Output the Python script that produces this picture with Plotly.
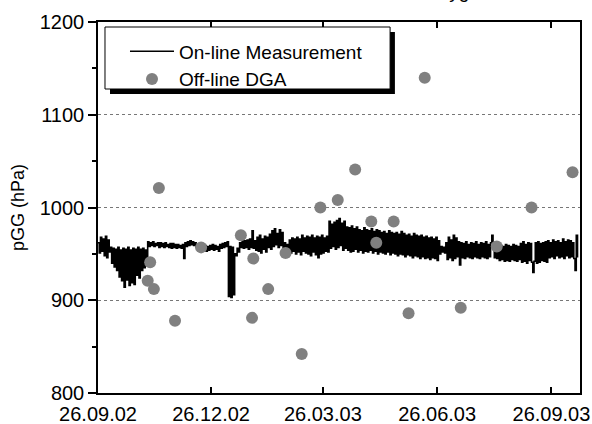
import pandas as pd
import plotly.graph_objects as go

# ---- Data ----
# Off-line DGA samples (date, pGG in hPa)
dga_dates = ["2002-11-05", "2002-11-07", "2002-11-10", "2002-11-14", "2002-11-27",
             "2002-12-18", "2003-01-19", "2003-01-28", "2003-01-29", "2003-02-10",
             "2003-02-24", "2003-03-09", "2003-03-24", "2003-04-07", "2003-04-21",
             "2003-05-04", "2003-05-08", "2003-05-22", "2003-06-03", "2003-06-16",
             "2003-07-15", "2003-08-13", "2003-09-10", "2003-10-13"]
dga_values = [921, 941, 912, 1021, 878,
              957, 970, 881, 945, 912,
              951, 842, 1000, 1008, 1041,
              985, 962, 985, 886, 1140,
              892, 958, 1000, 1038]

# On-line measurement, one reading per day from 26.09.02 (alternating upper/lower excursions)
online_start = "2002-09-26"
online_values = [
    962, 951, 968, 953, 966, 948, 969, 946, 965, 952,
    957, 940, 956, 936, 955, 932, 957, 925, 954, 921,
    956, 914, 955, 922, 957, 916, 954, 919, 956, 917,
    955, 927, 957, 924, 955, 932, 956, 935, 954, 938,
    963, 958, 962, 959, 963, 958, 961, 959, 962, 957,
    962, 958, 961, 957, 962, 958, 960, 957, 961, 956,
    961, 957, 960, 956, 960, 957, 959, 956, 960, 945,
    962, 958, 963, 959, 964, 960, 963, 959, 962, 957,
    959, 955, 960, 954, 958, 955, 959, 953, 958, 954,
    959, 955, 960, 954, 959, 955, 958, 953, 960, 956,
    961, 957, 962, 958, 963, 904, 958, 903, 957, 906,
    950, 948, 956, 952, 962, 957, 966, 956, 964, 957,
    965, 955, 966, 957, 975, 956, 964, 954, 968, 953,
    970, 951, 966, 955, 969, 952, 968, 957, 971, 955,
    975, 958, 977, 960, 972, 957, 976, 959, 973, 955,
    962, 954, 960, 952, 965, 951, 967, 953, 966, 950,
    968, 952, 966, 949, 970, 953, 967, 951, 969, 950,
    968, 948, 970, 952, 967, 949, 969, 946, 968, 950,
    970, 951, 967, 953, 969, 952, 985, 956, 982, 958,
    984, 955, 986, 957, 988, 959, 983, 954, 985, 956,
    979, 954, 978, 952, 980, 953, 977, 955, 979, 952,
    976, 954, 975, 951, 978, 953, 976, 952, 975, 954,
    977, 951, 974, 953, 976, 950, 975, 952, 973, 951,
    974, 950, 972, 952, 975, 949, 973, 951, 972, 950,
    973, 948, 971, 950, 974, 949, 972, 947, 970, 949,
    971, 948, 969, 946, 972, 948, 970, 947, 969, 945,
    970, 947, 968, 945, 969, 946, 967, 944, 968, 946,
    966, 945, 968, 943, 964, 950, 958, 952, 957, 951,
    962, 944, 968, 946, 965, 943, 970, 945, 967, 947,
    963, 938, 962, 946, 961, 945, 963, 947, 960, 946,
    962, 945, 961, 947, 963, 946, 960, 945, 962, 947,
    961, 946, 963, 945, 960, 947, 962, 970, 961, 946,
    962, 945, 960, 943, 959, 944, 958, 942, 960, 943,
    959, 942, 958, 944, 960, 943, 959, 942, 958, 944,
    961, 941, 963, 942, 960, 940, 962, 943, 961, 941,
    930, 942, 962, 940, 963, 941, 961, 943, 962, 942,
    963, 941, 964, 946, 962, 947, 965, 945, 963, 948,
    964, 946, 962, 947, 966, 945, 963, 948, 965, 946,
    964, 947, 962, 945, 932, 970, 946,
]

x_tick_dates = ["2002-09-26", "2002-12-26", "2003-03-26", "2003-06-26", "2003-09-26"]
x_tick_labels = ["26.09.02", "26.12.02", "26.03.03", "26.06.03", "26.09.03"]
x_range = ["2002-09-26", "2003-10-19"]
y_range = [800, 1200]

online_dates = pd.date_range(online_start, periods=len(online_values), freq="D")

FONT = "Arial, Liberation Sans, sans-serif"

fig = go.Figure()
fig.add_trace(go.Scatter(
    x=online_dates, y=online_values, mode="lines",
    name="On-line Measurement",
    line=dict(color="black", width=1.6, shape="hv"),
))
fig.add_trace(go.Scatter(
    x=pd.to_datetime(dga_dates), y=dga_values, mode="markers",
    name="Off-line DGA",
    marker=dict(color="#808080", size=12, line=dict(width=0)),
))

fig.update_layout(
    width=592, height=424,
    margin=dict(l=98, r=12, t=22, b=31, autoexpand=False),
    paper_bgcolor="white", plot_bgcolor="white",
    font=dict(family=FONT, color="black"),
    showlegend=True,
    legend=dict(
        x=0.056, y=0.972, xanchor="left", yanchor="top",
        bgcolor="rgba(0,0,0,0)", borderwidth=0,
        font=dict(size=19, family=FONT, color="black"),
        itemwidth=44, tracegroupgap=0,
    ),
    xaxis=dict(
        type="date", range=x_range, automargin=False,
        tickmode="array", tickvals=x_tick_dates, ticktext=x_tick_labels,
        ticks="inside", ticklen=6, tickwidth=1.5, tickcolor="black",
        showline=True, linecolor="black", linewidth=1.5, mirror="ticks",
        showgrid=False, zeroline=False, ticklabelstandoff=2,
        tickfont=dict(size=20, family=FONT, color="black"),
    ),
    yaxis=dict(
        range=y_range, dtick=100, tick0=800, automargin=False,
        ticks="outside", ticklen=8, tickwidth=1.5, tickcolor="black",
        minor=dict(ticks="outside", ticklen=4, dtick=50, tickcolor="black", tickwidth=1.5),
        showline=True, linecolor="black", linewidth=1.5, mirror=True,
        showgrid=True, gridcolor="#777777", gridwidth=1, griddash="dot",
        zeroline=False,
        tickfont=dict(size=20, family=FONT, color="black"),
        title=dict(text="pGG (hPa)", font=dict(size=18, family=FONT, color="black"), standoff=10),
    ),
    yaxis2=dict(
        overlaying="y", side="right", range=y_range, dtick=100, tick0=800, automargin=False,
        ticks="inside", ticklen=6, tickwidth=1.5, tickcolor="black",
        minor=dict(ticks="inside", ticklen=4, dtick=50, tickcolor="black", tickwidth=1.5),
        showticklabels=False, showgrid=False, zeroline=False,
        showline=True, linecolor="black", linewidth=1.5,
    ),
    shapes=[
        # legend drop shadow
        dict(type="rect", xref="paper", yref="paper",
             x0=0.0249, x1=0.616, y0=0.806, y1=0.973,
             fillcolor="black", line=dict(width=0), layer="above"),
        # legend box
        dict(type="rect", xref="paper", yref="paper",
             x0=0.0145, x1=0.606, y0=0.8194, y1=0.9865,
             fillcolor="white", line=dict(color="black", width=1), layer="above"),
    ],
    annotations=[
        dict(text="Oxygen", xref="paper", yref="paper", x=0.746, y=1.0485,
             xanchor="center", yanchor="bottom", showarrow=False,
             font=dict(size=19, family=FONT, color="black")),
    ],
)

fig.write_html(
    "out.html",
    config={"displayModeBar": False},
    post_script="document.body.style.margin='0';document.body.style.padding='0';",
)
